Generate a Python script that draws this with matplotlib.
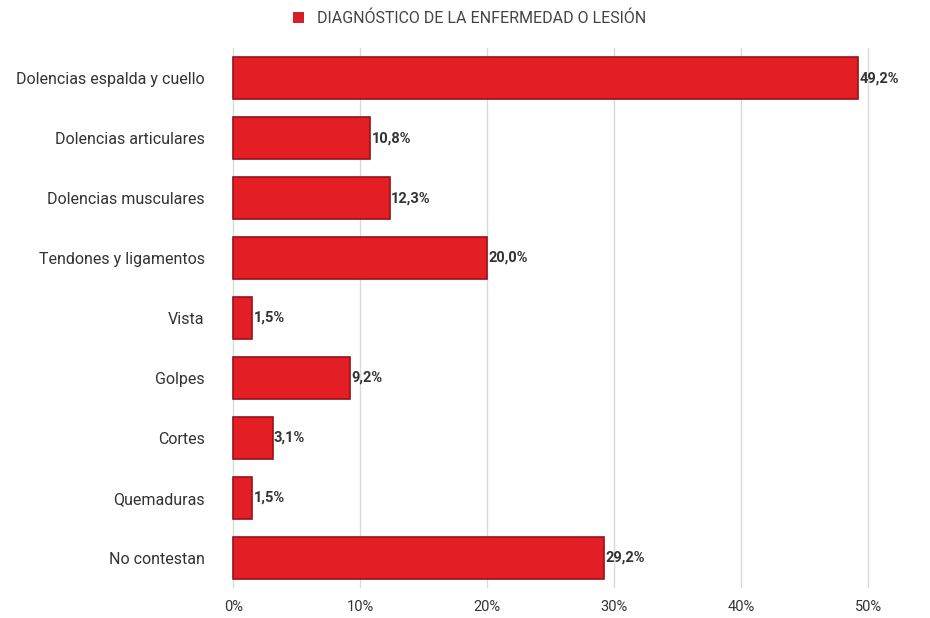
import matplotlib.pyplot as plt
from matplotlib.patches import Patch

# Data
categories = ['Dolencias espalda y cuello', 'Dolencias articulares', 'Dolencias musculares',
              'Tendones y ligamentos', 'Vista', 'Golpes', 'Cortes', 'Quemaduras', 'No contestan']
values = [49.2, 10.8, 12.3, 20.0, 1.5, 9.2, 3.1, 1.5, 29.2]
value_labels = ['49,2%', '10,8%', '12,3%', '20,0%', '1,5%', '9,2%', '3,1%', '1,5%', '29,2%']
xticks = [0, 10, 20, 30, 40, 50]
xtick_labels = ['0%', '10%', '20%', '30%', '40%', '50%']
legend_label = 'DIAGNÓSTICO DE LA ENFERMEDAD O LESIÓN'

plt.rcParams['font.family'] = ['Roboto', 'DejaVu Sans']

fig = plt.figure(figsize=(9.3, 6.18), dpi=100)
ax = fig.add_axes([0.229, 0.049, 0.739, 0.873])

ypos = list(range(len(categories)))
ax.barh(ypos, values, height=0.7, color='#e31e24', edgecolor='#9c1016',
        linewidth=1.2, zorder=3)

for y, v, lab in zip(ypos, values, value_labels):
    ax.text(v + 0.1, y, lab, va='center', ha='left', fontsize=10.5,
            color='#333333', fontweight='bold', zorder=4)

ax.set_yticks(ypos)
ax.set_yticklabels(categories, fontsize=11.5, color='#333333')
ax.invert_yaxis()
ax.set_ylim(len(categories) - 0.5, -0.5)

ax.set_xlim(-1.6, 52.5)
ax.set_xticks(xticks)
ax.set_xticklabels(xtick_labels, fontsize=10.5, color='#333333')
ax.tick_params(axis='both', length=0, pad=6)
ax.tick_params(axis='x', pad=9)

ax.grid(axis='x', color='#d9d9d9', linewidth=1, zorder=0)
for s in ax.spines.values():
    s.set_visible(False)

fig.legend(handles=[Patch(facecolor='#d4202a', label=legend_label)],
           loc='center', bbox_to_anchor=(0.505, 0.97), frameon=False,
           fontsize=11.5, handlelength=0.7, handleheight=0.7,
           labelcolor='#444444')

plt.savefig('out.png', dpi=100)
